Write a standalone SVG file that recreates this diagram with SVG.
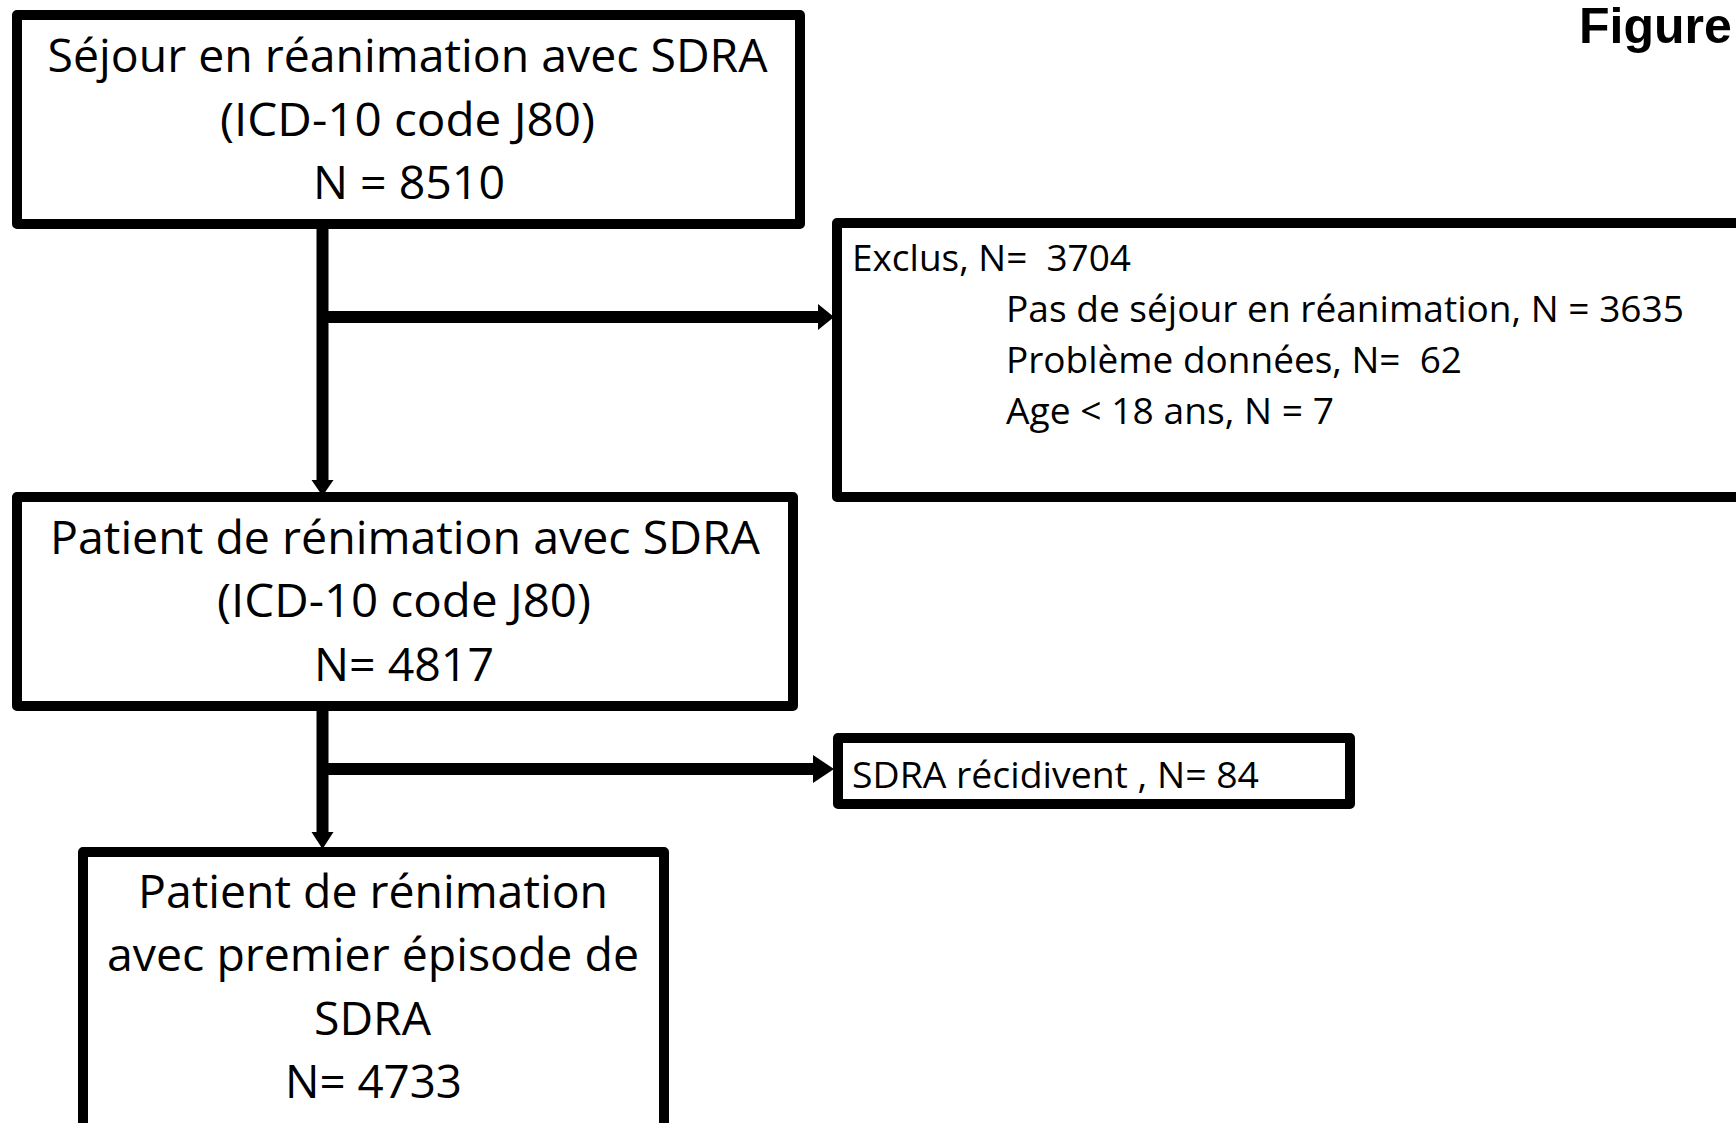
<svg xmlns="http://www.w3.org/2000/svg" width="1736" height="1123" viewBox="0 0 1736 1123">
<style>
.box{fill:#fff;stroke:#000;stroke-width:10;stroke-linejoin:round}
.big{font-family:"Open Sans","Liberation Sans",sans-serif;font-size:46px;fill:#000}
.small{font-family:"Open Sans","Liberation Sans",sans-serif;font-size:37px;fill:#000}
.conn{stroke:#000;stroke-width:12;fill:none}
.head{fill:#000}
.title{font-family:"Liberation Sans",Arial,sans-serif;font-weight:bold;font-size:50px;fill:#000}
</style>
<rect width="1736" height="1123" fill="#fff"/>
<text class="title" x="1579" y="43">Figure</text>
<g id="connectors">
<line class="conn" x1="322.5" y1="224" x2="322.5" y2="482"/>
<polygon class="head" points="311.5,480 333.5,480 322.5,496"/>
<line class="conn" x1="322.5" y1="317" x2="820" y2="317"/>
<polygon class="head" points="818,304 818,330 834,317"/>
<line class="conn" x1="322.5" y1="706" x2="322.5" y2="834"/>
<polygon class="head" points="311.5,832 333.5,832 322.5,849"/>
<line class="conn" x1="322.5" y1="769" x2="815" y2="769"/>
<polygon class="head" points="813,755 813,783 834,769"/>
</g>
<g id="node-sejour">
<rect class="box" x="17" y="15" width="783" height="209"/>
<text class="big" x="47.6" y="72" textLength="720" lengthAdjust="spacingAndGlyphs">Séjour en réanimation avec SDRA</text>
<text class="big" x="220" y="135.5" textLength="375" lengthAdjust="spacingAndGlyphs">(ICD-10 code J80)</text>
<text class="big" x="313" y="199" textLength="192" lengthAdjust="spacingAndGlyphs">N = 8510</text>
</g>
<g id="node-exclus">
<rect class="box" x="837" y="223" width="1000" height="274"/>
<text class="small" x="852" y="271" textLength="279" lengthAdjust="spacingAndGlyphs" xml:space="preserve">Exclus, N=  3704</text>
<text class="small" x="1006" y="322" textLength="678" lengthAdjust="spacingAndGlyphs">Pas de séjour en réanimation, N = 3635</text>
<text class="small" x="1006" y="373" textLength="456" lengthAdjust="spacingAndGlyphs" xml:space="preserve">Problème données, N=  62</text>
<text class="small" x="1006" y="424" textLength="328" lengthAdjust="spacingAndGlyphs">Age &lt; 18 ans, N = 7</text>
</g>
<g id="node-patient">
<rect class="box" x="17" y="497" width="776" height="209"/>
<text class="big" x="50" y="553.5" textLength="710" lengthAdjust="spacingAndGlyphs">Patient de rénimation avec SDRA</text>
<text class="big" x="217" y="617" textLength="374" lengthAdjust="spacingAndGlyphs">(ICD-10 code J80)</text>
<text class="big" x="314" y="681" textLength="180" lengthAdjust="spacingAndGlyphs">N= 4817</text>
</g>
<g id="node-recidivent">
<rect class="box" x="838" y="738" width="512" height="66"/>
<text class="small" x="852" y="788" textLength="407" lengthAdjust="spacingAndGlyphs">SDRA récidivent , N= 84</text>
</g>
<g id="node-premier">
<rect class="box" x="83" y="852" width="581" height="300"/>
<text class="big" x="138" y="908" textLength="470" lengthAdjust="spacingAndGlyphs">Patient de rénimation</text>
<text class="big" x="107" y="971" textLength="532" lengthAdjust="spacingAndGlyphs">avec premier épisode de</text>
<text class="big" x="314" y="1035" textLength="117" lengthAdjust="spacingAndGlyphs">SDRA</text>
<text class="big" x="285" y="1098" textLength="177" lengthAdjust="spacingAndGlyphs">N= 4733</text>
</g>
</svg>
